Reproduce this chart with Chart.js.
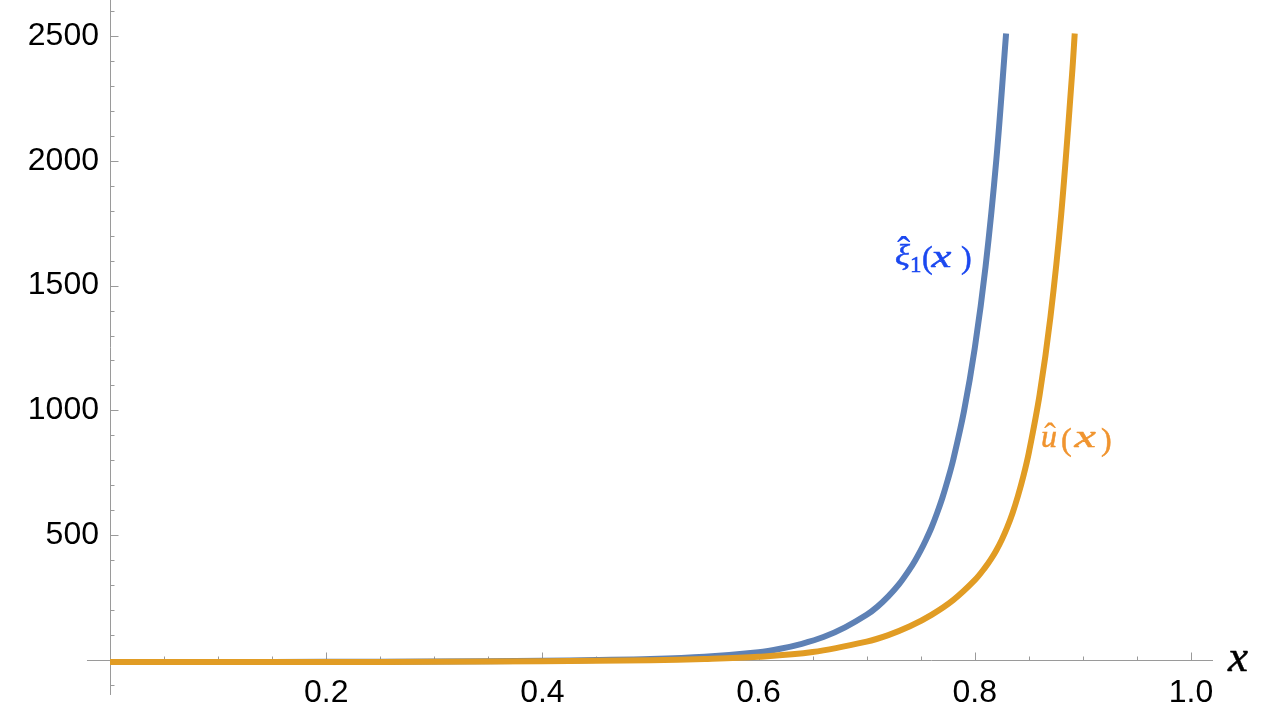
<!DOCTYPE html>
<html>
<head>
<meta charset="utf-8">
<script src="https://cdn.jsdelivr.net/npm/chart.js@4/dist/chart.umd.min.js"></script>
<style>
  html, body { margin: 0; padding: 0; background: #ffffff; }
  #wrap { width: 1268px; height: 726px; }
</style>
</head>
<body>
<div id="wrap"><canvas id="c" width="1268" height="726"></canvas></div>
<script>
// ---- data ----
const xiX = [0, 0.1, 0.2, 0.3, 0.4, 0.45, 0.5, 0.55, 0.6, 0.62, 0.64, 0.66, 0.68, 0.70, 0.71, 0.72, 0.73, 0.74, 0.745, 0.75, 0.755, 0.76, 0.765, 0.77, 0.775, 0.78, 0.79, 0.80, 0.81, 0.82, 0.829];
const xiY = [-8, -8, -7, -6, -3, 0, 4, 13, 31, 45, 65, 92, 131, 181, 214, 255, 304, 365, 400, 439, 483, 531, 587, 649, 721, 801, 996, 1249, 1576, 2006, 2510];

const uX = [0, 0.1, 0.2, 0.3, 0.4, 0.5, 0.55, 0.6, 0.65, 0.70, 0.72, 0.74, 0.76, 0.78, 0.80, 0.81, 0.815, 0.82, 0.825, 0.83, 0.835, 0.84, 0.845, 0.85, 0.86, 0.87, 0.88, 0.89, 0.8925];
const uY = [-8, -8, -8, -7, -5, -1, 4, 13, 32, 74, 100, 135, 181, 240, 320, 373, 404, 440, 482, 531, 589, 658, 737, 830, 1063, 1374, 1787, 2345, 2510];

const xTickValues = [0.2, 0.4, 0.6, 0.8, 1.0];
const xTickLabels = ['0.2', '0.4', '0.6', '0.8', '1.0'];
const yTickValues = [500, 1000, 1500, 2000, 2500];
const yTickLabels = ['500', '1000', '1500', '2000', '2500'];

const seriesNames = ['xi1', 'u'];

// ---- styling ----
const BLUE = '#5e81b5';
const ORANGE = '#e19c24';
const AXIS = '#9a9a9a';

const toPts = (xs, ys) => xs.map((x, i) => ({ x: x, y: ys[i] }));

const axesPlugin = {
  id: 'mmaAxes',
  beforeDatasetsDraw(chart) {
    const ctx = chart.ctx;
    const xs = chart.scales.x, ys = chart.scales.y;
    const ca = chart.chartArea;
    const x0 = Math.round(xs.getPixelForValue(0)) + 0.5;
    const y0 = Math.round(ys.getPixelForValue(0)) + 0.5;
    ctx.save();
    ctx.strokeStyle = AXIS;
    ctx.lineWidth = 1;
    ctx.beginPath();
    ctx.moveTo(xs.getPixelForValue(-0.0213), y0); ctx.lineTo(ca.right, y0);
    ctx.moveTo(x0, ca.top); ctx.lineTo(x0, ys.getPixelForValue(-140));
    for (let v = -100; v <= 2600; v += 100) {
      if (v === 0) continue;
      const major = v % 500 === 0;
      const py = Math.round(ys.getPixelForValue(v)) + 0.5;
      ctx.moveTo(x0, py); ctx.lineTo(x0 + (major ? 8 : 4), py);
    }
    for (let k = 1; k <= 20; k++) {
      const v = k * 0.05;
      const major = k % 4 === 0;
      const px = Math.round(xs.getPixelForValue(v)) + 0.5;
      ctx.moveTo(px, y0); ctx.lineTo(px, y0 - (major ? 8 : 4));
    }
    ctx.stroke();
    ctx.restore();
  }
};

function inkText(ctx, text, font, left, top, sx) {
  sx = sx || 1;
  ctx.font = font;
  const m = ctx.measureText(text);
  ctx.save();
  ctx.translate(left, top + m.actualBoundingBoxAscent);
  ctx.scale(sx, 1);
  ctx.fillText(text, m.actualBoundingBoxLeft, 0);
  ctx.lineWidth = 0.5;
  ctx.strokeText(text, m.actualBoundingBoxLeft, 0);
  ctx.restore();
}
function inkTextCentered(ctx, text, font, cx, top) {
  ctx.font = font;
  const m = ctx.measureText(text);
  const w = m.actualBoundingBoxLeft + m.actualBoundingBoxRight;
  ctx.fillText(text, cx - w / 2 + m.actualBoundingBoxLeft, top + m.actualBoundingBoxAscent);
}

const labelPlugin = {
  id: 'curveLabels',
  afterDatasetsDraw(chart) {
    const ctx = chart.ctx;
    const xs = chart.scales.x, ys = chart.scales.y;
    const serif = '"Liberation Serif", "DejaVu Serif", serif';
    const it = 'italic 32px ' + serif;
    const rm = '32px ' + serif;
    ctx.save();
    ctx.textAlign = 'left';
    ctx.textBaseline = 'alphabetic';

    // xi-hat_1(x)
    let ax = xs.getPixelForValue(0.7262), ay = ys.getPixelForValue(1671);
    ctx.fillStyle = '#1b48f0'; ctx.strokeStyle = '#1b48f0';
    inkText(ctx, '\u03BE', 'italic 29px ' + serif, ax, ay, 1.2);
    inkTextCentered(ctx, '\u02C6', '40px ' + serif, ax + 9, ay - 7);
    inkText(ctx, '1', '23px ' + serif, ax + 17, ay + 14);
    inkText(ctx, '(', rm, ax + 28, ay + 2);
    inkText(ctx, 'x', it, ax + 35, ay + 9, 1.4);
    inkText(ctx, ')', rm, ax + 67, ay + 2);

    // u-hat(x)
    ax = xs.getPixelForValue(0.8622); ay = ys.getPixelForValue(913.5);
    ctx.fillStyle = '#f0942f'; ctx.strokeStyle = '#f0942f';
    inkText(ctx, 'u', it, ax, ay);
    inkTextCentered(ctx, '\u02C6', '36px ' + serif, ax + 8, ay - 10);
    inkText(ctx, '(', rm, ax + 20, ay - 5);
    inkText(ctx, 'x', it, ax + 31, ay, 1.5);
    inkText(ctx, ')', rm, ax + 60, ay - 5);

    // axis label x
    ax = xs.getPixelForValue(1.0333); ay = ys.getPixelForValue(36);
    ctx.fillStyle = '#000000'; ctx.strokeStyle = '#000000';
    inkText(ctx, 'x', 'italic 45px ' + serif, ax, ay);
    ctx.restore();
  }
};

new Chart(document.getElementById('c'), {
  type: 'line',
  data: {
    datasets: [
      { label: seriesNames[0], data: toPts(xiX, xiY), borderColor: BLUE, borderWidth: 6,
        pointRadius: 0, fill: false, tension: 0.35, order: 1 },
      { label: seriesNames[1], data: toPts(uX, uY), borderColor: ORANGE, borderWidth: 6,
        pointRadius: 0, fill: false, tension: 0.35, order: 0 }
    ]
  },
  options: {
    responsive: false,
    animation: false,
    devicePixelRatio: 1,
    layout: { padding: { left: 0, right: 55, top: 0, bottom: 0 } },
    plugins: { legend: { display: false }, tooltip: { enabled: false } },
    scales: {
      x: {
        type: 'linear', position: 'bottom', min: 0, max: 1.0204,
        grid: { display: false, drawTicks: false }, border: { display: false },
        afterBuildTicks: s => { s.ticks = xTickValues.map(v => ({ value: v })); },
        afterFit: s => { s.height = 48; s.paddingLeft = 0; s.paddingRight = 0; },
        ticks: {
          autoSkip: false, maxRotation: 0, minRotation: 0, padding: -4.5,
          color: '#000', font: { family: '"Liberation Sans", Arial, sans-serif', size: 32 },
          callback: (v, i) => xTickLabels[i]
        }
      },
      y: {
        type: 'linear', position: 'left', min: -72, max: 2644,
        grid: { display: false, drawTicks: false }, border: { display: false },
        afterBuildTicks: s => { s.ticks = yTickValues.map(v => ({ value: v })); },
        afterFit: s => { s.width = 110; s.paddingTop = 0; s.paddingBottom = 0; },
        ticks: {
          autoSkip: false, padding: 11,
          color: '#000', font: { family: '"Liberation Sans", Arial, sans-serif', size: 32 },
          callback: (v, i) => yTickLabels[i]
        }
      }
    }
  },
  plugins: [axesPlugin, labelPlugin]
});
</script>
</body>
</html>
